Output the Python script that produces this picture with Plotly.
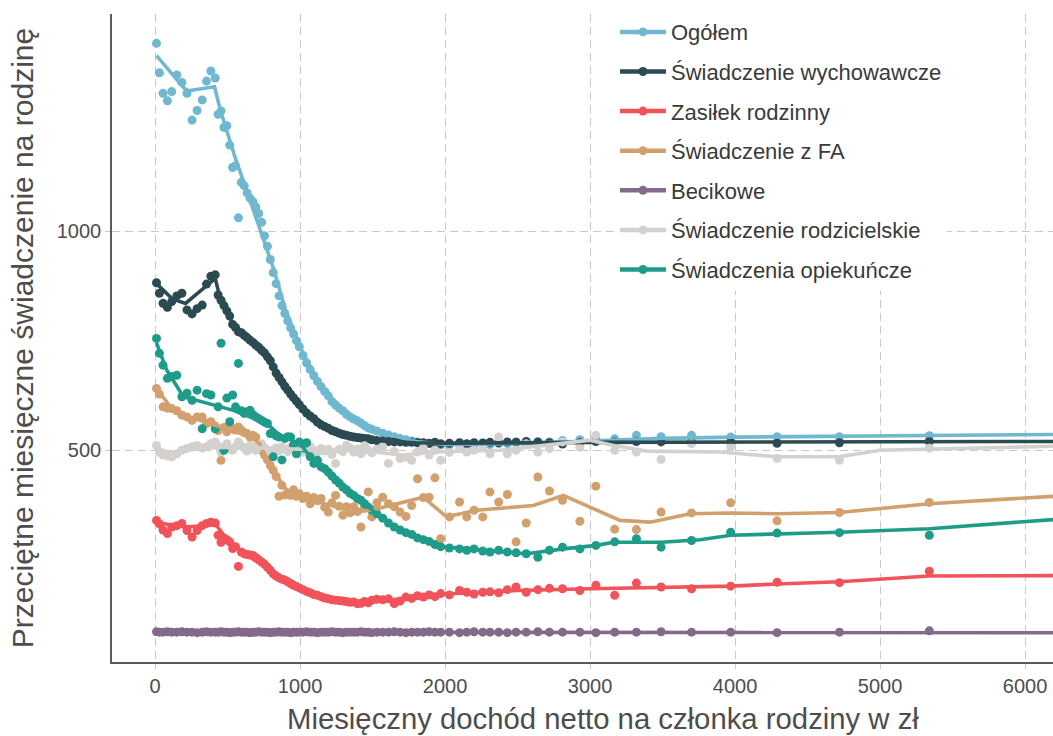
import plotly.graph_objects as go

# ---------------- data ----------------
income = [10, 30, 55, 85, 115, 150, 185, 220, 255, 290, 325, 355, 385, 415,
          435, 455, 475, 495, 515, 535, 555, 575, 595, 615, 635, 655, 675, 695, 715, 735,
          755, 775, 795, 815, 835, 855, 875, 895, 915, 935, 955, 975, 995,
          1020, 1045, 1070, 1095, 1120, 1145, 1170, 1195, 1220, 1245, 1270, 1295, 1320, 1345,
          1370, 1395, 1420, 1445, 1470, 1495,
          1530, 1570, 1610, 1650, 1690, 1730, 1770, 1810, 1850, 1890, 1930, 1970,
          2030, 2100, 2150, 2200, 2260, 2310, 2370, 2430, 2490, 2560, 2640, 2720, 2810, 2930,
          3040, 3170,
          3320, 3490, 3700, 3970, 4290, 4720, 5340]

ogolem = [1428, 1361, 1314, 1297, 1318, 1356, 1339, 1314, 1253, 1275, 1299, 1342, 1365, 1349,
          1266, 1274, 1236, 1240, 1196, 1145, 1149, 1030, 1111, 1103, 1087, 1075, 1067, 1055, 1040, 1020,
          989, 965, 935, 905, 880, 852, 830, 812, 795, 779, 765, 750, 736,
          716, 699, 684, 670, 657, 645, 634, 624, 611, 603, 596, 590, 582, 576,
          571, 567, 562, 556, 551, 548,
          544, 539, 535, 531, 527, 524, 521, 519, 516, 515, 513, 512,
          512, 515, 512, 514, 517, 513, 516, 515, 519, 517, 520, 519, 522, 524,
          528, 526,
          534, 531, 534, 530, 531, 531, 533]

wychowawcze = [882, 858, 835, 826, 839, 852, 858, 820, 811, 823, 831, 879, 897, 900,
               854, 842, 830, 818, 806, 787, 780, 770, 768, 762, 757, 751, 746, 740, 735, 728,
               722, 713, 704, 690, 676, 666, 656, 646, 637, 628, 620, 612, 604,
               594, 585, 578, 572, 564, 558, 554, 550, 545, 542, 539, 536, 534, 532,
               530, 529, 528, 527, 526, 524,
               522, 521, 520, 519, 519, 518, 518, 517, 517, 516, 518, 515,
               516, 517, 515, 517, 516, 518, 517, 519, 518, 520, 518, 517, 514, 517,
               520, 519,
               520, 519, 519, 519, 516, 517, 520]

zasilek = [340, 332, 318, 310, 325, 328, 333, 317, 302, 317, 328, 333, 336, 334,
           306, 290, 300, 296, 291, 276, 280, 235, 268, 264, 262, 261, 260, 255, 250, 245,
           240, 233, 226, 218, 213, 209, 206, 204, 200, 196, 192, 189, 186,
           182, 178, 175, 171, 169, 166, 163, 161, 159, 158, 157, 156, 155, 153,
           154, 150, 151, 155, 152, 158,
           160, 159, 161, 150, 156, 165, 162, 168, 165, 170, 166, 173,
           170, 180, 176, 172, 176, 177, 175, 182, 188, 176, 182, 185, 184, 180,
           192, 169,
           197, 188, 184, 190, 199, 198, 224]

fa = [641, 628, 599, 596, 595, 590, 580, 576, 568, 576, 576, 561, 565, 555,
      545, 477, 552, 542, 557, 549, 546, 553, 546, 540, 538, 530, 534, 530, 510, 500,
      489, 478, 465, 454, 440, 395, 420, 398, 400, 397, 410, 395, 401,
      390, 395, 378, 392, 385, 390, 370, 359, 380, 397, 372, 352, 371, 357,
      371, 360, 325, 370, 405, 348,
      380, 393, 378, 371, 359, 349, 374, 435, 392, 393, 437, 298,
      348, 382, 348, 363, 348, 405, 382, 399, 291, 334, 439, 407, 386, 338,
      418, 320,
      319, 359, 357, 380, 339, 358, 381]

becikowe = [86, 85, 85, 86, 85, 85, 86, 85, 85, 84, 85, 86, 85, 85,
            85, 86, 85, 85, 84, 85, 85, 86, 85, 85, 85, 84, 85, 85, 86, 85,
            85, 85, 84, 85, 85, 86, 85, 85, 85, 84, 85, 85, 85,
            85, 86, 85, 85, 84, 85, 85, 85, 86, 85, 85, 84, 85, 85,
            85, 85, 86, 85, 85, 84,
            85, 85, 85, 86, 85, 84, 85, 85, 85, 86, 85, 85,
            85, 84, 85, 86, 85, 85, 85, 84, 85, 85, 86, 85, 85, 85,
            84, 85,
            85, 86, 85, 85, 84, 85, 88]

rodzicielskie = [511, 495, 489, 487, 485, 492, 500, 504, 508, 511, 505, 508, 515, 519,
                 510, 496, 505, 515, 503, 500, 508, 519, 510, 505, 498, 511, 505, 500, 508, 515,
                 506, 500, 497, 500, 505, 499, 508, 503, 497, 506, 504, 500, 493,
                 505, 496, 508, 500, 495, 504, 498, 502, 490, 470, 502, 497, 511, 505,
                 496, 503, 492, 510, 500, 494,
                 502, 508, 470, 497, 481, 484, 477, 496, 505, 489, 500, 477,
                 495, 504, 496, 500, 508, 492, 530, 492, 500, 515, 496, 504, 519, 507,
                 534, 500,
                 496, 479, 515, 508, 481, 477, 505]

opiekuncze = [755, 721, 694, 664, 668, 671, 622, 630, 614, 637, 549, 629, 626, 549,
              599, 744, 500, 619, 565, 626, 599, 698, 590, 584, 588, 591, 581, 576, 572, 568,
              564, 561, 538, 485, 533, 530, 478, 527, 531, 530, 512, 492, 519,
              505, 517, 485, 470, 477, 462, 458, 450, 441, 432, 425, 416, 410, 402,
              397, 390, 386, 378, 370, 363,
              355, 345, 334, 325, 318, 312, 308, 300, 296, 292, 285, 280,
              277, 275, 272, 275, 270, 268, 272, 268, 266, 264, 256, 272, 279, 275,
              283, 291,
              298, 279, 294, 313, 311, 312, 306]

# smoothed trend lines
ogolem_trend_x = [10, 200, 230, 410, 450, 550, 650, 816, 900, 1000, 1100, 1200, 1300, 1400,
                  1500, 1600, 1800, 2000, 2500, 3000, 3500, 4000, 5000, 6200]
ogolem_trend_y = [1400, 1326, 1320, 1329, 1276, 1170, 1075, 915, 820, 735, 672, 625, 592, 568,
                  550, 537, 520, 513, 515, 522, 527, 530, 533, 536]

wych_trend_x = [10, 120, 210, 390, 415, 450, 550, 700, 800, 900, 1000, 1100, 1200, 1400,
                1600, 1800, 2000, 3000, 4000, 6200]
wych_trend_y = [880, 845, 835, 885, 892, 845, 780, 742, 700, 645, 603, 574, 552, 530,
                520, 517, 516, 518, 519, 520]

zas_trend_x = [10, 200, 420, 500, 600, 800, 1000, 1200, 1400, 1600, 2000, 2500, 3000,
               3500, 3970, 4290, 4720, 5340, 6200]
zas_trend_y = [335, 325, 330, 295, 268, 225, 186, 163, 153, 158, 172, 180, 184,
               188, 190, 195, 200, 213, 214]

fa_trend_x = [10, 100, 200, 300, 400, 500, 650, 720, 800, 900, 1000, 1100, 1200, 1300, 1400,
              1500, 1600, 1700, 1850, 2010, 2218, 2609, 2816, 3207, 3414, 3690, 3970, 4290,
              4720, 5340, 6200]
fa_trend_y = [640, 602, 580, 570, 558, 548, 532, 515, 462, 412, 392, 385, 375, 366, 360,
              364, 372, 380, 393, 348, 363, 374, 397, 340, 336, 355, 357, 355,
              358, 378, 395]

bec_trend_x = [10, 3000, 5340, 6200]
bec_trend_y = [85, 85, 85, 84]

rodz_trend_x = [10, 100, 200, 400, 600, 800, 1000, 1200, 1400, 1600, 1700, 1920, 2379, 2793,
                3000, 3161, 3391, 3897, 4288, 4719, 5000, 6200]
rodz_trend_y = [505, 494, 500, 506, 507, 504, 502, 500, 500, 494, 489, 496, 500, 515,
                523, 511, 498, 496, 485, 485, 500, 509]

opiek_trend_x = [10, 80, 195, 356, 540, 770, 862, 1000, 1092, 1207, 1299, 1414, 1529, 1644,
                 1759, 1874, 1989, 2149, 2310, 2563, 2816, 3046, 3161, 3494, 3759, 3970, 4719,
                 5340, 6200]
opiek_trend_y = [745, 683, 622, 607, 591, 561, 534, 515, 476, 440, 416, 386, 355, 325,
                 310, 295, 280, 275, 270, 264, 275, 283, 290, 290, 296, 306, 313,
                 321, 342]

x_ticks = [0, 1000, 2000, 3000, 4000, 5000, 6000]
y_ticks = [500, 1000]

x_title = "Miesięczny dochód netto na członka rodziny w zł"
y_title = "Przeciętne miesięczne świadczenie na rodzinę"

names = ["Ogółem", "Świadczenie wychowawcze", "Zasiłek rodzinny", "Świadczenie z FA",
         "Becikowe", "Świadczenie rodzicielskie", "Świadczenia opiekuńcze"]
colors = ["#6FB8D0", "#2B4A52", "#F2525A", "#D2A06C", "#846A89", "#D4D0CD", "#1F9C89"]
points = [ogolem, wychowawcze, zasilek, fa, becikowe, rodzicielskie, opiekuncze]
trends = [(ogolem_trend_x, ogolem_trend_y), (wych_trend_x, wych_trend_y),
          (zas_trend_x, zas_trend_y), (fa_trend_x, fa_trend_y),
          (bec_trend_x, bec_trend_y), (rodz_trend_x, rodz_trend_y),
          (opiek_trend_x, opiek_trend_y)]

FONT = "Liberation Sans, Arial, sans-serif"
fig = go.Figure()

for name, col, ys in zip(names, colors, points):
    fig.add_trace(go.Scatter(x=income, y=ys, mode="markers", name=name,
                             marker=dict(color=col, size=9, line=dict(width=0)),
                             showlegend=False, hoverinfo="x+y+name"))

for name, col, (tx, ty) in zip(names, colors, trends):
    fig.add_trace(go.Scatter(x=tx, y=ty, mode="lines", name=name,
                             line=dict(color=col, width=3.6),
                             showlegend=False, hoverinfo="skip"))

for name, col in zip(names, colors):
    fig.add_trace(go.Scatter(x=[None], y=[None], mode="lines+markers", name=name,
                             legendgroup=name,
                             line=dict(color=col, width=4.5),
                             marker=dict(color=col, size=9)))

grid_col = "#C8C8C8"
fig.update_layout(
    width=1053, height=736,
    paper_bgcolor="white", plot_bgcolor="white",
    margin=dict(l=112, r=0, t=14, b=74, autoexpand=False),
    font=dict(family=FONT, color="#4D4D4D"),
    xaxis=dict(range=[-297, 6193], tickvals=x_ticks, ticktext=[str(v) for v in x_ticks],
               showgrid=True, gridcolor=grid_col, griddash="8px,5px", gridwidth=1.4,
               zeroline=False, showline=True, linecolor="#5A5A5A", linewidth=1.6,
               ticks="outside", ticklen=5, tickcolor=grid_col, tickwidth=1.4,
               tickfont=dict(size=20, color="#4D4D4D"), automargin=False),
    yaxis=dict(range=[17, 1495], tickvals=y_ticks, ticktext=[str(v) for v in y_ticks],
               showgrid=True, gridcolor=grid_col, griddash="8px,5px", gridwidth=1.4,
               zeroline=False, showline=True, linecolor="#5A5A5A", linewidth=1.6,
               ticks="outside", ticklen=5, tickcolor=grid_col, tickwidth=1.4,
               tickfont=dict(size=20, color="#4D4D4D"), automargin=False,
               title=dict(text=y_title,
                          font=dict(size=30, color="#4D4D4D"), standoff=14)),
    legend=dict(x=0.5345, y=1.0045, xanchor="left", yanchor="top",
                bgcolor="white", borderwidth=0,
                font=dict(size=22, family=FONT, color="#3A3A3A"),
                traceorder="grouped", tracegroupgap=8, itemwidth=46),
    showlegend=True,
    annotations=[dict(text=x_title, xref="paper", yref="paper",
                      x=0.5218, y=-0.0875, xanchor="center", yanchor="middle",
                      showarrow=False, font=dict(size=29.3, color="#4D4D4D", family=FONT))],
)

fig.write_html("out.html", config={"displayModeBar": False},
               post_script="document.body.style.margin='0';document.body.style.overflow='hidden';")
